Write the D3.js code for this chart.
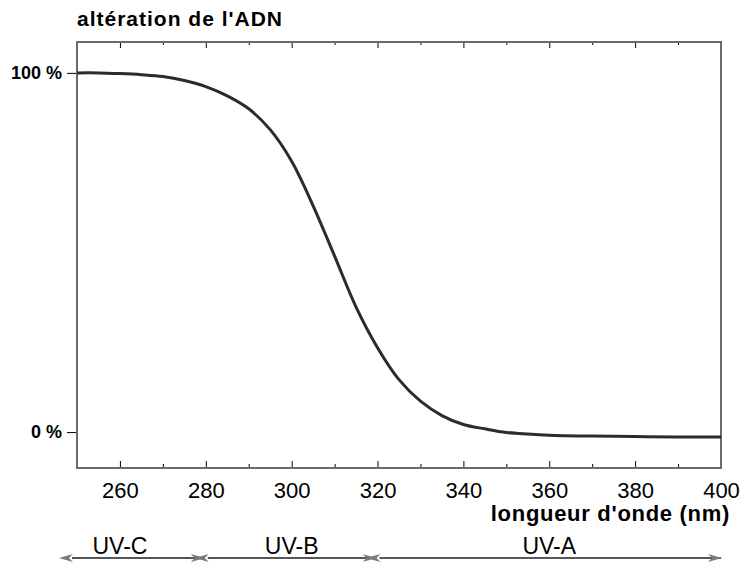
<!DOCTYPE html>
<html>
<head>
<meta charset="utf-8">
<script src="https://cdn.jsdelivr.net/npm/d3@7"></script>
<style>
  body { margin: 0; background: #fff; }
  svg { display: block; font-family: "Liberation Sans", Arial, sans-serif; }
  .tick text { fill: #000; }
</style>
</head>
<body>
<div id="chart"></div>
<script>
const width = 747;
const height = 568;

// DNA damage (%), by wavelength (nm)
const wavelengths = [250, 255, 260, 265, 270, 275, 280, 285, 290, 295, 300, 305, 310, 315, 320, 325, 330, 335, 340, 345, 350, 355, 360, 370, 380, 390, 400];
const damage = [100, 100, 99.8, 99.5, 99, 97.9, 96.2, 93.6, 90, 84.2, 75.4, 63, 49, 34.8, 23.5, 14.6, 8.6, 4.6, 2.1, 0.9, -0.1, -0.55, -0.85, -1.1, -1.25, -1.35, -1.4];

const majorTicks = [260, 280, 300, 320, 340, 360, 380, 400];
const minorTicks = [270, 290, 310, 330, 350, 370, 390];
const yTicks = [0, 100];

const bands = ['UV-C', 'UV-B', 'UV-A'];
const bandStart = [250, 280, 320];
const bandEnd = [280, 320, 400];
const bandLabelAt = [260, 300, 360];

const margin = {top: 42, right: 26, bottom: 100, left: 77};

const x = d3.scaleLinear()
  .domain([250, 400])
  .range([margin.left, width - margin.right]);

const y = d3.scaleLinear()
  .domain([-10, 108.6])
  .range([height - margin.bottom, margin.top]);

const svg = d3.select('#chart').append('svg')
  .attr('width', width)
  .attr('height', height);

const defs = svg.append('defs');
['start', 'end'].forEach(k => {
  defs.append('marker')
    .attr('id', 'arrow-' + k)
    .attr('viewBox', '0 0 14 10')
    .attr('refX', k === 'end' ? 13 : 1)
    .attr('refY', 5)
    .attr('markerWidth', 14)
    .attr('markerHeight', 10)
    .attr('markerUnits', 'userSpaceOnUse')
    .attr('orient', k === 'end' ? 'auto' : 'auto-start-reverse')
    .append('path')
    .attr('d', 'M0,1 L14,5 L0,9 L4,5 Z')
    .attr('fill', '#7a7a7a');
});

// title
svg.append('text')
  .attr('x', margin.left)
  .attr('y', 26)
  .attr('font-size', 21)
  .attr('font-weight', 'bold')
  .attr('letter-spacing', 1)
  .text("altération de l'ADN");

// bottom axis, ticks pointing inward
const x0 = height - margin.bottom;
svg.append('g')
  .attr('transform', `translate(0,${x0})`)
  .call(d3.axisBottom(x).tickValues(majorTicks).tickSizeInner(-7).tickSizeOuter(0).tickPadding(14))
  .call(g => g.select('.domain').remove())
  .call(g => g.selectAll('.tick line').attr('stroke', '#000'))
  .call(g => g.selectAll('.tick text').attr('font-size', 22).attr('font-family', null));

svg.append('g')
  .attr('transform', `translate(0,${x0})`)
  .call(d3.axisBottom(x).tickValues(minorTicks).tickSizeInner(-4).tickSizeOuter(0).tickFormat(''))
  .call(g => g.select('.domain').remove());

// top axis, ticks pointing inward
svg.append('g')
  .attr('transform', `translate(0,${margin.top})`)
  .call(d3.axisTop(x).tickValues(majorTicks).tickSizeInner(-6).tickSizeOuter(0).tickFormat(''))
  .call(g => g.select('.domain').remove());

svg.append('g')
  .attr('transform', `translate(0,${margin.top})`)
  .call(d3.axisTop(x).tickValues(minorTicks).tickSizeInner(-3).tickSizeOuter(0).tickFormat(''))
  .call(g => g.select('.domain').remove());

// left axis
svg.append('g')
  .attr('transform', `translate(${margin.left},0)`)
  .call(d3.axisLeft(y).tickValues(yTicks).tickSizeInner(10).tickSizeOuter(0).tickPadding(5).tickFormat(d => d + ' %'))
  .call(g => g.select('.domain').remove())
  .call(g => g.selectAll('.tick line').attr('stroke', '#000'))
  .call(g => g.selectAll('.tick text')
    .attr('font-size', 18)
    .attr('font-weight', 'bold')
    .attr('font-family', null));

// frame
svg.append('rect')
  .attr('x', x(250))
  .attr('y', y(108.6))
  .attr('width', x(400) - x(250))
  .attr('height', y(-10) - y(108.6))
  .attr('fill', 'none')
  .attr('stroke', '#6a6a6a')
  .attr('stroke-width', 2);

// curve
const line = d3.line()
  .curve(d3.curveCatmullRom.alpha(0.5))
  .x((d, i) => x(wavelengths[i]))
  .y(d => y(d));

svg.append('path')
  .datum(damage)
  .attr('d', line)
  .attr('fill', 'none')
  .attr('stroke', '#2b2b2b')
  .attr('stroke-width', 3);

// x axis title
svg.append('text')
  .attr('x', 730)
  .attr('y', 521)
  .attr('text-anchor', 'end')
  .attr('font-size', 22)
  .attr('font-weight', 'bold')
  .attr('letter-spacing', 0.7)
  .text("longueur d'onde (nm)");

// UV bands
const arrowY = 558;
const band = svg.append('g');

band.selectAll('line')
  .data(bands)
  .enter()
  .append('line')
  .attr('x1', (d, i) => x(bandStart[i]) + (i === 0 ? -5 : 2))
  .attr('x2', (d, i) => x(bandEnd[i]) - (i === bands.length - 1 ? 0 : 2))
  .attr('y1', arrowY)
  .attr('y2', arrowY)
  .attr('stroke', '#1e1e1e')
  .attr('stroke-width', 1.6)
  .attr('marker-start', 'url(#arrow-start)')
  .attr('marker-end', 'url(#arrow-end)');

band.selectAll('text')
  .data(bands)
  .enter()
  .append('text')
  .attr('x', (d, i) => x(bandLabelAt[i]))
  .attr('y', 554)
  .attr('text-anchor', 'middle')
  .attr('font-size', 23)
  .text(d => d);
</script>
</body>
</html>
